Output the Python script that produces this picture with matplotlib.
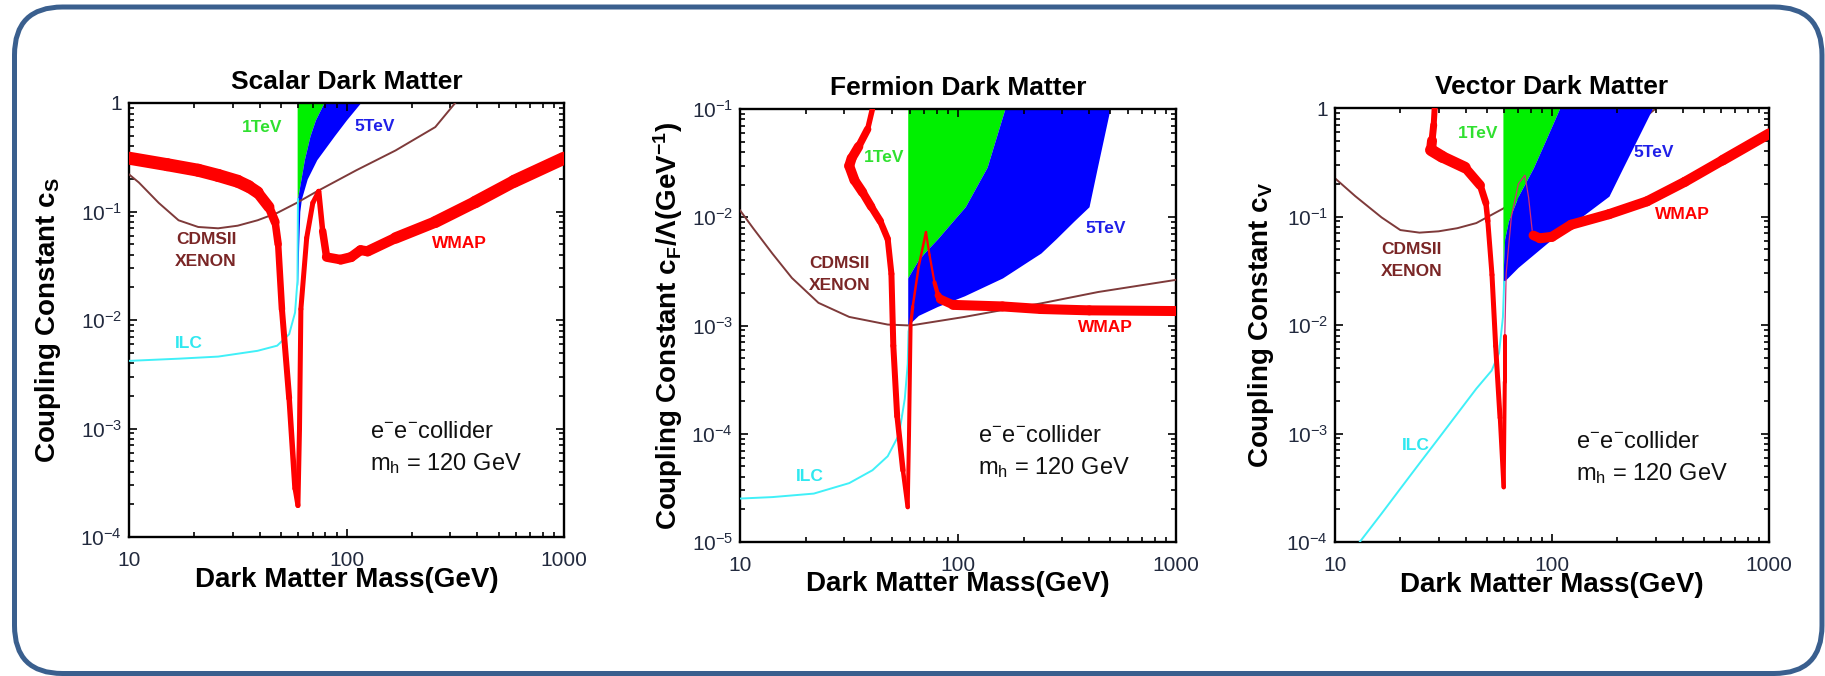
import numpy as np
import matplotlib
matplotlib.use("Agg")
import matplotlib.pyplot as plt
from matplotlib.collections import LineCollection
from matplotlib.patches import FancyBboxPatch
from matplotlib.transforms import IdentityTransform
from matplotlib.ticker import FixedLocator, LogLocator, NullFormatter, FuncFormatter

plt.rcParams['font.family'] = ['Liberation Sans', 'DejaVu Sans']
plt.rcParams['mathtext.default'] = 'regular'

DPI = 100

# ---------------- Scalar dark matter ----------------
scalar_wmap_m = [10, 15, 20.8, 25.7, 31.6, 35.5, 39, 44, 47, 48.5, 50.5, 54.5, 58, 59.8, 60.8,
                 61.7, 65.6, 70, 74.5, 77.7, 81, 94, 105, 116, 125, 168, 256, 390, 590, 1000]
scalar_wmap_c = [0.31, 0.27, 0.24, 0.215, 0.19, 0.17, 0.15, 0.11, 0.08, 0.05, 0.0125, 0.0019,
                 2.8e-4, 1.95e-4, 1.0e-3, 0.0126, 0.057, 0.12, 0.153, 0.066, 0.038, 0.036, 0.038,
                 0.044, 0.043, 0.057, 0.08, 0.122, 0.19, 0.31]
scalar_wmap_band = [13, 13, 13, 13, 13, 12.5, 12, 10, 8, 7, 6, 6, 5, 5, 5,
                    5, 5, 5, 5, 6, 9, 10, 10, 10, 10, 11, 12, 12, 13, 13]
scalar_cdms_m = [10, 11.1, 13.7, 16.9, 20.8, 25.7, 31.6, 39, 48, 59, 73, 111, 168, 256, 316]
scalar_cdms_c = [0.22, 0.185, 0.12, 0.083, 0.072, 0.07, 0.074, 0.083, 0.097, 0.12, 0.153,
                 0.24, 0.365, 0.6, 1.0]
scalar_ilc_m = [10, 16.9, 25.7, 39, 48, 54.5, 58, 59.5, 59.8]
scalar_ilc_c = [0.0042, 0.0044, 0.0046, 0.0052, 0.0058, 0.0074, 0.0117, 0.023, 0.13]
scalar_fill_c = [0.021, 0.05, 0.1, 0.13, 0.2, 0.3, 0.5, 0.7, 1.0]
scalar_m_1tev = [59.3, 59.3, 59.3, 59.5, 61.8, 64, 68, 72, 78.7]
scalar_m_5tev = [59.6, 60.3, 61.0, 62, 66, 73, 88, 100, 115.8]
scalar_threshold = 59.3

# ---------------- Fermion dark matter ----------------
fermion_wmap_m = [40.5, 38.5, 35, 32.5, 31.7, 33.5, 36.5, 40, 44, 47.6, 49.5, 50.5, 52.6, 55.9,
                  58.8, 59.6, 60.6, 62, 66, 71.3, 74, 78, 81, 83, 95, 160, 240, 400, 1000]
fermion_wmap_c = [0.1, 0.065, 0.045, 0.035, 0.0298, 0.022, 0.017, 0.0125, 0.0092, 0.0063, 0.003,
                  6.5e-4, 1.45e-4, 4.6e-5, 2.1e-5, 9.8e-5, 1.0e-3, 1.5e-3, 3.5e-3, 7.3e-3,
                  4.5e-3, 2.5e-3, 1.9e-3, 1.75e-3, 1.55e-3, 1.5e-3, 1.42e-3, 1.38e-3, 1.36e-3]
fermion_wmap_band = [5, 6, 9, 10, 10, 10, 9, 8, 7, 6, 6, 6, 6, 5,
                     4, 4, 4, 2.5, 2.5, 2.5, 2, 2.5, 6, 8, 10, 10, 10, 10, 10]
fermion_cdms_m = [10, 11.5, 14.1, 17.3, 22.9, 31.7, 47.6, 60.6, 107, 160, 240, 440, 1000]
fermion_cdms_c = [0.0116, 7.9e-3, 4.6e-3, 2.75e-3, 1.62e-3, 1.2e-3, 1.02e-3, 1.0e-3, 1.2e-3,
                  1.39e-3, 1.6e-3, 2.04e-3, 2.64e-3]
fermion_ilc_m = [10, 14.1, 21.8, 31.7, 40.5, 47.6, 53.6, 57, 58.8, 59.3, 60]
fermion_ilc_c = [2.52e-5, 2.6e-5, 2.8e-5, 3.5e-5, 4.6e-5, 6.2e-5, 9.8e-5, 2.1e-4, 4.4e-4,
                 8.8e-4, 1e-3]
fermion_fill_c = [1e-3, 1.24e-3, 1.5e-3, 1.88e-3, 2.75e-3, 4e-3, 4.67e-3, 6.3e-3, 9.2e-3,
                  0.0125, 0.029, 0.1]
fermion_m_1tev = [58.8, 58.8, 58.8, 58.8, 58.8, 65.6, 70, 80.5, 94.6, 108, 136, 164]
fermion_m_5tev = [58.8, 65.8, 80.5, 107, 160, 213, 240, 281, 340, 399, 436, 498]
fermion_threshold = 58.8

# ---------------- Vector dark matter ----------------
vector_wmap_m = [28.8, 28.5, 28.0, 27.7, 31.2, 39.7, 46.7, 49.6, 50.6, 52.9, 55.0, 57.6, 59.9,
                 60.6, 60.6]
vector_wmap_c = [1.0, 0.7, 0.5, 0.41, 0.355, 0.283, 0.194, 0.133, 0.091, 0.029, 0.0064, 0.0014,
                 3.2e-4, 3e-3, 8e-3]
vector_wmap_band = [6, 6, 8, 12, 12, 11, 8, 6, 5, 5, 5, 5, 4, 4, 4]
vector_wmap_hidden_m = [60.6, 61.5, 65, 70, 75, 78, 81]
vector_wmap_hidden_c = [8e-3, 0.03, 0.1, 0.2, 0.24, 0.15, 0.075]
vector_wmap_high_m = [82, 88, 100, 122.6, 183, 274, 410, 611, 1000]
vector_wmap_high_c = [0.067, 0.063, 0.065, 0.084, 0.105, 0.138, 0.209, 0.33, 0.58]
vector_wmap_high_band = [9, 10, 10, 10, 10, 10, 10, 10, 11]
vector_cdms_m = [10, 12.4, 16.4, 20, 24.5, 30, 36.6, 44.8, 59.4, 82, 122.6, 183, 303]
vector_cdms_c = [0.225, 0.154, 0.098, 0.075, 0.071, 0.073, 0.078, 0.087, 0.118, 0.18, 0.28,
                 0.445, 1.0]
vector_ilc_m = [13.0, 16.4, 20.0, 24.5, 30.0, 36.6, 44.8, 52.7, 57.0, 59.4, 60.2]
vector_ilc_c = [1.0e-4, 1.83e-4, 3.1e-4, 5.3e-4, 9.0e-4, 1.52e-3, 2.59e-3, 3.8e-3, 5.5e-3,
                0.0118, 0.025]
vector_fill_c = [0.0118, 0.025, 0.034, 0.062, 0.091, 0.154, 0.28, 0.5, 1.0]
vector_m_1tev = [59.4, 59.6, 59.7, 60.5, 63.0, 69.9, 82, 93.3, 108.6]
vector_m_5tev = [59.4, 59.9, 69.8, 100, 129, 183, 212, 245, 291]
vector_threshold = 59.4

x_ticks = [10, 100, 1000]
x_tick_labels = ["10", "100", "1000"]

RED = "#FF0000"
GREEN = "#00F000"
BLUE = "#0000FF"
CYAN = "#40F0F8"
BROWN = "#7E3A3A"
TICKCOL = "#222A3E"


def draw_band(ax, m, c, width_px, color=RED, z=5, alpha=1.0):
    pts = np.column_stack([m, c])
    segs = np.stack([pts[:-1], pts[1:]], axis=1)
    w = np.asarray(width_px, float)
    lw = 0.5 * (w[:-1] + w[1:]) * 72.0 / DPI
    lc = LineCollection(segs, linewidths=lw, colors=color, capstyle='round',
                        joinstyle='round', zorder=z, alpha=alpha)
    ax.add_collection(lc)


def y_fmt(v, pos):
    if abs(v - 1) < 1e-9:
        return "1"
    return r"$10^{%d}$" % int(round(np.log10(v)))


def setup_axes(ax, ylim, ylabel, title, ylabel_x):
    ax.set_xscale('log')
    ax.set_yscale('log')
    ax.set_xlim(10, 1000)
    ax.set_ylim(*ylim)
    ax.xaxis.set_major_locator(FixedLocator(x_ticks))
    ax.set_xticklabels(x_tick_labels)
    ax.xaxis.set_minor_locator(LogLocator(base=10, subs=np.arange(2, 10), numticks=20))
    ax.xaxis.set_minor_formatter(NullFormatter())
    ax.yaxis.set_major_locator(LogLocator(base=10, numticks=20))
    ax.yaxis.set_major_formatter(FuncFormatter(y_fmt))
    ax.yaxis.set_minor_locator(LogLocator(base=10, subs=np.arange(2, 10), numticks=20))
    ax.yaxis.set_minor_formatter(NullFormatter())
    ax.tick_params(which='both', direction='in', top=True, right=True, colors='black',
                   labelcolor=TICKCOL, labelsize=15, width=1.2)
    ax.tick_params(which='major', length=6)
    ax.tick_params(axis='x', which='major', pad=10)
    ax.tick_params(axis='y', which='major', pad=5)
    ax.tick_params(which='minor', length=3.5)
    for s in ax.spines.values():
        s.set_linewidth(1.7)
    ax.set_title(title, fontsize=19, fontweight='bold', pad=10)
    ax.set_xlabel("Dark Matter Mass(GeV)", fontsize=20, fontweight='bold')
    ax.xaxis.set_label_coords(0.5, -0.068)
    ax.set_ylabel(ylabel, fontsize=20, fontweight='bold')
    ax.yaxis.set_label_coords(ylabel_x, 0.5)


def put_labels(ax, pos):
    kw = dict(transform=ax.transAxes, fontsize=12.5, fontweight='bold', ha='center',
              va='center', zorder=8)
    ax.text(*pos['1tev'], "1TeV", color="#30E030", **kw)
    ax.text(*pos['5tev'], "5TeV", color="#2020E8", **kw)
    ax.text(*pos['cdms'], "CDMSII", color="#7A2626", **kw)
    ax.text(pos['cdms'][0], pos['cdms'][1] - 0.05, "XENON", color="#7A2626", **kw)
    ax.text(*pos['wmap'], "WMAP", color=RED, **kw)
    ax.text(*pos['ilc'], "ILC", color="#30E8F0", **kw)
    ax.text(pos['coll'][0], pos['coll'][1], r"e$^{-}$e$^{-}$collider", transform=ax.transAxes,
            fontsize=17, ha='left', va='center', color='#111111', zorder=8)
    ax.text(pos['coll'][0], pos['coll'][1] - 0.072, r"m$_h$ = 120 GeV", transform=ax.transAxes,
            fontsize=17, ha='left', va='center', color='#111111', zorder=8)


fig = plt.figure(figsize=(18.25, 6.76), dpi=DPI)
W, H = 1825.0, 676.0

# rounded frame around the figure
frame = FancyBboxPatch((14.5, 2.5), 1822 - 14.5, 669 - 2.5,
                       boxstyle="round,pad=0,rounding_size=48",
                       transform=IdentityTransform(), facecolor='none',
                       edgecolor='#3A5F8E', linewidth=3.6, zorder=10)
fig.patches.append(frame)


def axes_at(l, t, r, b):
    return fig.add_axes([l / W, 1 - b / H, (r - l) / W, (b - t) / H])


ax1 = axes_at(129, 103, 564, 537)
ax2 = axes_at(740, 109, 1176, 542)
ax3 = axes_at(1335, 108, 1769, 542)

# ---- Scalar
setup_axes(ax1, (1e-4, 1), r"Coupling Constant c$_S$", "Scalar Dark Matter", -0.152)
ax1.fill_betweenx(scalar_fill_c, scalar_threshold, scalar_m_1tev, color=GREEN, lw=0, zorder=1)
ax1.fill_betweenx(scalar_fill_c, scalar_m_1tev, scalar_m_5tev, color=BLUE, lw=0, zorder=1)
ax1.plot(scalar_cdms_m, scalar_cdms_c, color=BROWN, lw=1.4, zorder=3)
ax1.plot(scalar_ilc_m, scalar_ilc_c, color=CYAN, lw=1.4, zorder=3)
draw_band(ax1, scalar_wmap_m, scalar_wmap_c, scalar_wmap_band)
put_labels(ax1, {'1tev': (0.305, 0.944), '5tev': (0.564, 0.947), 'cdms': (0.177, 0.685),
                 'wmap': (0.759, 0.677), 'ilc': (0.138, 0.447), 'coll': (0.5545, 0.241)})

# ---- Fermion
setup_axes(ax2, (1e-5, 1e-1), r"Coupling Constant c$_F$/Λ(GeV$^{-1}$)",
           "Fermion Dark Matter", -0.126)
ax2.fill_betweenx(fermion_fill_c, fermion_threshold, fermion_m_1tev, color=GREEN, lw=0, zorder=1)
ax2.fill_betweenx(fermion_fill_c, fermion_m_1tev, fermion_m_5tev, color=BLUE, lw=0, zorder=1)
ax2.plot(fermion_cdms_m, fermion_cdms_c, color=BROWN, lw=1.4, zorder=3)
ax2.plot(fermion_ilc_m, fermion_ilc_c, color=CYAN, lw=1.4, zorder=3)
draw_band(ax2, fermion_wmap_m, fermion_wmap_c, fermion_wmap_band)
put_labels(ax2, {'1tev': (0.33, 0.889), '5tev': (0.838, 0.725), 'cdms': (0.229, 0.643),
                 'wmap': (0.838, 0.495), 'ilc': (0.16, 0.151), 'coll': (0.545, 0.244)})

# ---- Vector
setup_axes(ax3, (1e-4, 1), r"Coupling Constant c$_V$", "Vector Dark Matter", -0.135)
ax3.plot(vector_cdms_m, vector_cdms_c, color=BROWN, lw=1.4, zorder=0.5)
ax3.fill_betweenx(vector_fill_c, vector_threshold, vector_m_1tev, color=GREEN, lw=0, zorder=1)
ax3.fill_betweenx(vector_fill_c, vector_m_1tev, vector_m_5tev, color=BLUE, lw=0, zorder=1)
ax3.plot(vector_ilc_m, vector_ilc_c, color=CYAN, lw=1.4, zorder=3)
draw_band(ax3, vector_wmap_m, vector_wmap_c, vector_wmap_band)
ax3.plot(vector_wmap_hidden_m, vector_wmap_hidden_c, color='#D02A7A', lw=0.9, zorder=2)
draw_band(ax3, vector_wmap_high_m, vector_wmap_high_c, vector_wmap_high_band)
put_labels(ax3, {'1tev': (0.33, 0.941), '5tev': (0.735, 0.897), 'cdms': (0.177, 0.674),
                 'wmap': (0.80, 0.754), 'ilc': (0.186, 0.222), 'coll': (0.555, 0.23)})

fig.savefig("out.png", dpi=DPI)
